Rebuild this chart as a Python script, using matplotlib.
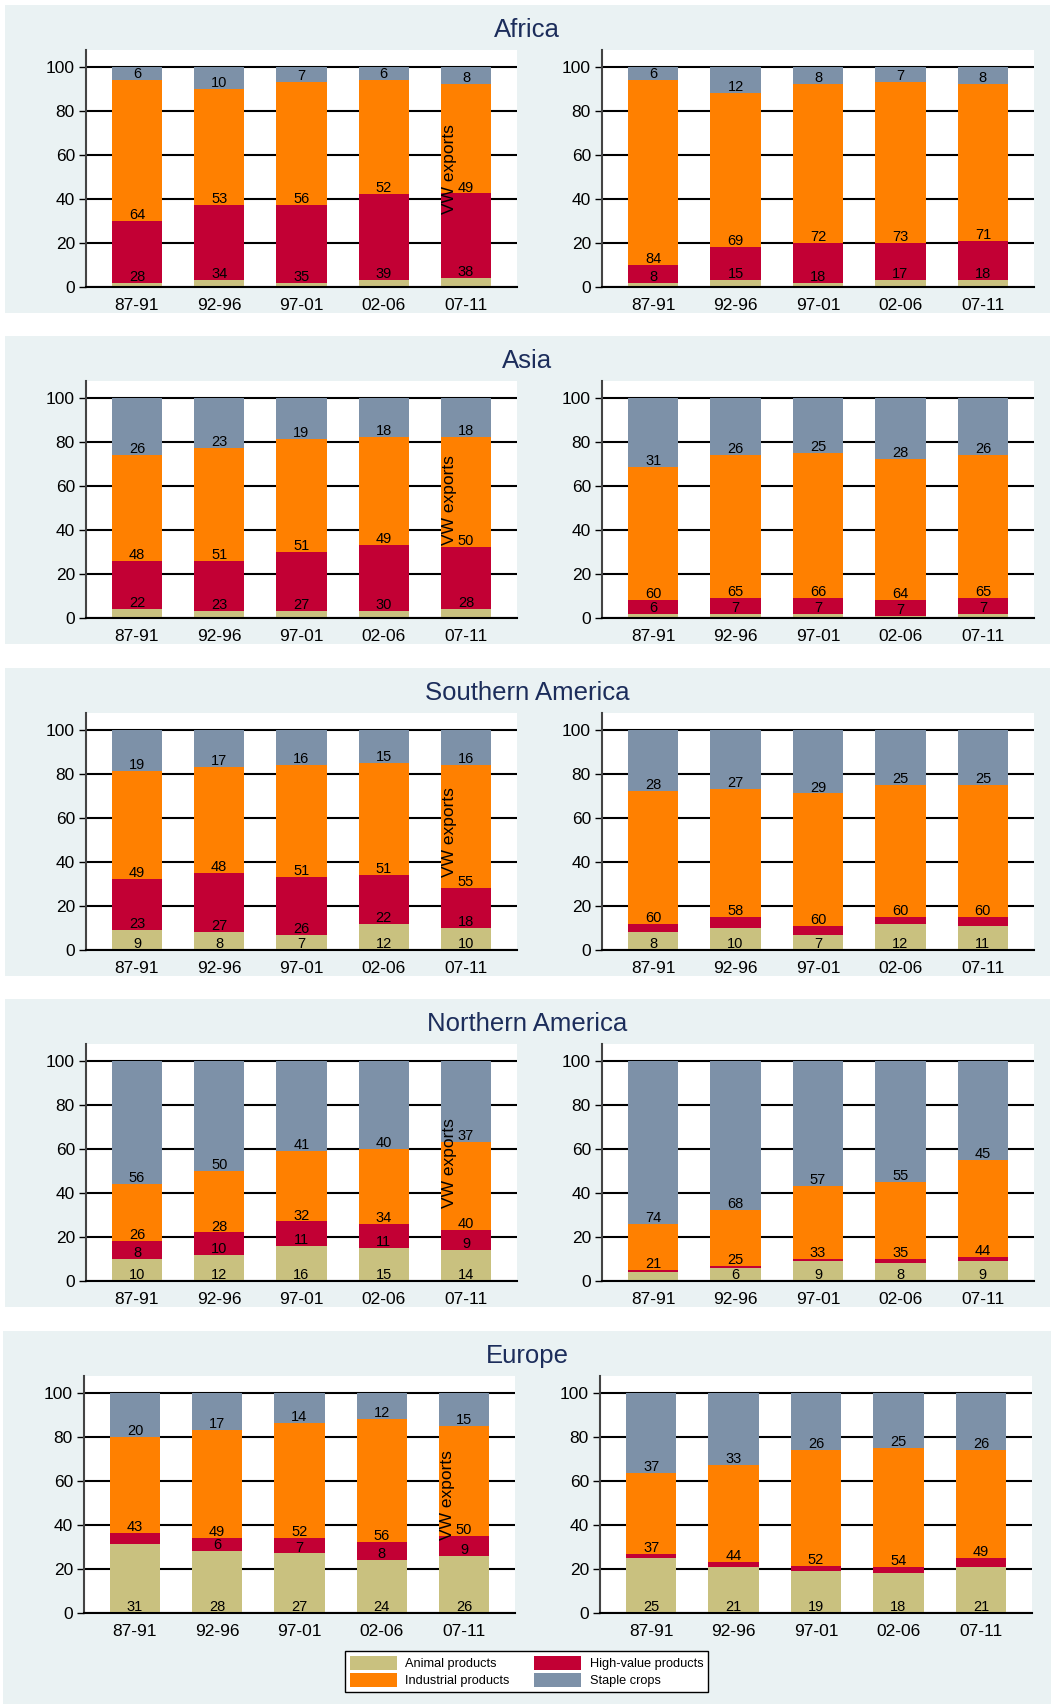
import numpy as np
import matplotlib.pyplot as plt
from matplotlib.patches import Rectangle, Patch

plt.rcParams['font.family'] = ['Liberation Sans', 'DejaVu Sans']

periods = ['87-91', '92-96', '97-01', '02-06', '07-11']
regions = ['Africa', 'Asia', 'Southern America', 'Northern America', 'Europe']
series = ['Animal products', 'High-value products', 'Industrial products', 'Staple crops']
colors = ['#C9C17F', '#C20034', '#FF8000', '#7D91A8']

# rows: animal, high-value, industrial, staple (shares in %)
africa_left = [[2, 3, 2, 3, 4], [28, 34, 35, 39, 38], [64, 53, 56, 52, 49], [6, 10, 7, 6, 8]]
africa_right = [[2, 3, 2, 3, 3], [8, 15, 18, 17, 18], [84, 69, 72, 73, 71], [6, 12, 8, 7, 8]]
asia_left = [[4, 3, 3, 3, 4], [22, 23, 27, 30, 28], [48, 51, 51, 49, 50], [26, 23, 19, 18, 18]]
asia_right = [[2, 2, 2, 1, 2], [6, 7, 7, 7, 7], [60, 65, 66, 64, 65], [31, 26, 25, 28, 26]]
samerica_left = [[9, 8, 7, 12, 10], [23, 27, 26, 22, 18], [49, 48, 51, 51, 55], [19, 17, 16, 15, 16]]
samerica_right = [[8, 10, 7, 12, 11], [4, 5, 4, 3, 4], [60, 58, 60, 60, 60], [28, 27, 29, 25, 25]]
namerica_left = [[10, 12, 16, 15, 14], [8, 10, 11, 11, 9], [26, 28, 32, 34, 40], [56, 50, 41, 40, 37]]
namerica_right = [[4, 6, 9, 8, 9], [1, 1, 1, 2, 2], [21, 25, 33, 35, 44], [74, 68, 57, 55, 45]]
europe_left = [[31, 28, 27, 24, 26], [5, 6, 7, 8, 9], [43, 49, 52, 56, 50], [20, 17, 14, 12, 15]]
europe_right = [[25, 21, 19, 18, 21], [2, 2, 2, 3, 4], [37, 44, 52, 54, 49], [37, 33, 26, 25, 26]]

panels = [(africa_left, africa_right), (asia_left, asia_right),
          (samerica_left, samerica_right), (namerica_left, namerica_right),
          (europe_left, europe_right)]

W, H = 1054, 1704
fig = plt.figure(figsize=(W / 100, H / 100), dpi=100)
bg = '#EAF2F3'


def px_box(x0, y0, x1, y1):
    # pixel box (top-left origin) -> figure fraction rect
    return [x0 / W, 1 - y1 / H, (x1 - x0) / W, (y1 - y0) / H]


def draw_panel(ax, data, vw_label):
    data = np.array(data, dtype=float)
    shares = data / data.sum(axis=0) * 100
    x = np.arange(len(periods))
    ax.set_facecolor('white')
    for yv in range(0, 101, 20):
        ax.axhline(yv, color='black', lw=1.5, zorder=0)
    bottom = np.zeros(len(periods))
    for k in range(4):
        ax.bar(x, shares[k], 0.61, bottom=bottom, color=colors[k], zorder=2, linewidth=0)
        for i in range(len(periods)):
            if data[k, i] >= 6:
                ax.text(x[i], bottom[i] + 2.7, '%d' % data[k, i], ha='center', va='center',
                        fontsize=10.5, color='black', zorder=3)
        bottom += shares[k]
    if vw_label:
        ax.text(3.8, 53.5, 'VW exports', rotation=90, ha='center', va='center',
                fontsize=12.5, color='black', zorder=4)
    ax.set_xlim(-0.62, 4.62)
    ax.set_ylim(0, 107.5)
    ax.set_yticks(range(0, 101, 20))
    ax.set_xticks(x)
    ax.set_xticklabels(periods)
    ax.tick_params(axis='y', length=5, width=1, labelsize=12.5, pad=3)
    ax.tick_params(axis='x', length=0, labelsize=12.5, pad=8)
    for s in ['top', 'right']:
        ax.spines[s].set_visible(False)
    ax.spines['left'].set_color('#444444')
    ax.spines['left'].set_linewidth(1.5)
    ax.spines['bottom'].set_color('black')
    ax.spines['bottom'].set_linewidth(1.5)
    ax.spines['bottom'].set_zorder(5)


tops = [5, 336, 668, 999, 1331]
for r, region in enumerate(regions):
    top = tops[r]
    if r < 4:
        band = px_box(5, top, 1050, top + 308)
        shift = 0
    else:
        band = px_box(3, top, 1051, H)
        shift = -2
    fig.patches.append(Rectangle((band[0], band[1]), band[2], band[3], transform=fig.transFigure,
                                 facecolor=bg, edgecolor='none', zorder=-10))
    fig.text(527 / W, 1 - (top + 25) / H, region, ha='center', va='center',
             fontsize=18.5, color='#1C2D5B')
    left, right = panels[r]
    ax_l = fig.add_axes(px_box(86 + shift, top + 45, 517 + shift, top + 282))
    draw_panel(ax_l, left, True)
    ax_r = fig.add_axes(px_box(602 + shift, top + 45, 1034 + shift, top + 282))
    draw_panel(ax_r, right, False)

handles = [Patch(facecolor=colors[0], label=series[0]), Patch(facecolor=colors[2], label=series[2]),
           Patch(facecolor=colors[1], label=series[1]), Patch(facecolor=colors[3], label=series[3])]
leg = fig.legend(handles=handles, ncol=2, loc='center', bbox_to_anchor=(526.5 / W, 1 - 1671.5 / H),
                 fontsize=9.2, frameon=True, fancybox=False, edgecolor='black', framealpha=1,
                 handlelength=3.7, handleheight=1.3, handletextpad=0.65, columnspacing=1.9,
                 labelspacing=0.25, borderpad=0.35)
leg.get_frame().set_linewidth(1)

fig.savefig('out.png', dpi=100)
